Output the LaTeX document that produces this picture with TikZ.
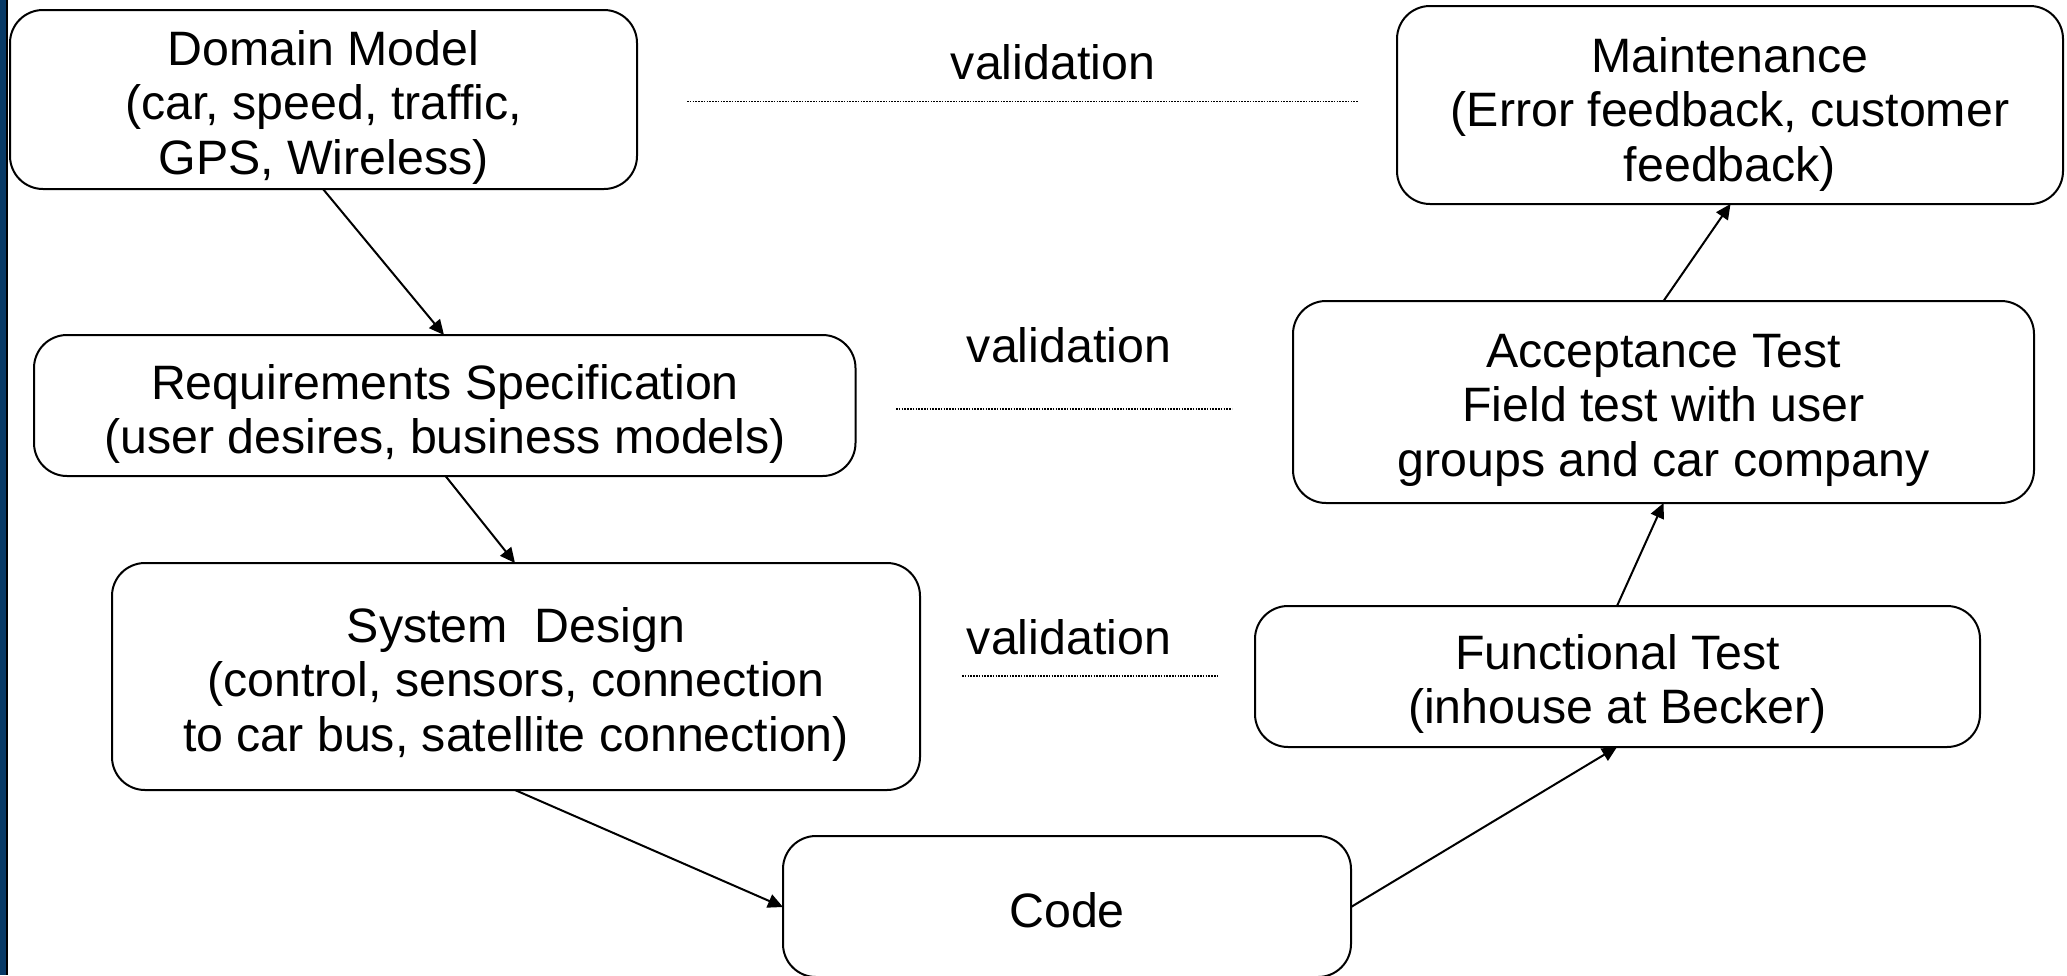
\documentclass[tikz,border=0pt]{standalone}
\usepackage{fontspec}
\setmainfont{Liberation Sans}
\usetikzlibrary{arrows.meta}
\definecolor{stripblue}{HTML}{083A66}
\begin{document}
\begin{tikzpicture}[x=1pt,y=-1pt,
  box/.style={draw=black,line width=2pt,rounded corners=33pt,fill=white},
  lbl/.style={font=\fontsize{48.3}{54.5}\selectfont,align=center,inner sep=0pt},
  arr/.style={draw=black,line width=2pt,-{Triangle[length=15pt,width=14pt]}},
  valline/.style={draw=black,line width=1.6pt,dash pattern=on 1.6pt off 1.2pt}]
\useasboundingbox (0,0) rectangle (2067,975);
\fill[white] (0,0) rectangle (2067,975);
\fill[stripblue] (0,0) rectangle (5.5,975);
\fill[black] (5.5,0) rectangle (7.5,975);
% boxes
\draw[box] (10,10) rectangle (637,189);
\node[lbl] (dm) at (323.5,107) {Domain Model\\(car, speed, traffic,\\GPS, Wireless)};
\coordinate (dmS) at (323,189);
\draw[box] (34,335) rectangle (855.5,476);
\node[lbl] (rs) at (445,414) {Requirements Specification\\(user desires, business models)};
\draw[box] (112,563) rectangle (920,790);
\node[lbl] (sd) at (516,684) {System~ Design\\(control, sensors, connection\\to car bus, satellite connection)};
\draw[box] (783,836) rectangle (1351,977);
\node[lbl] (cd) at (1067,910) {Code};
\draw[box] (1255,606) rectangle (1980,747);
\node[lbl] (ft) at (1617.5,684) {Functional Test\\(inhouse at Becker)};
\draw[box] (1293,301) rectangle (2034,503);
\node[lbl] (at) at (1663.5,410) {Acceptance Test\\Field test with user\\groups and car company};
\draw[box] (1397,6) rectangle (2063,204);
\node[lbl] (mt) at (1730,114) {Maintenance\\(Error feedback, customer\\feedback)};
% anchor coordinates on box borders
\coordinate (rsN) at (444,335);
\coordinate (rsS) at (445.5,476);
\coordinate (sdN) at (515,563);
\coordinate (sdS) at (515,790);
\coordinate (cdW) at (783,907);
\coordinate (cdE) at (1351,907);
\coordinate (ftS) at (1617,747);
\coordinate (ftN) at (1617,606);
\coordinate (atS) at (1663.5,503);
\coordinate (atN) at (1663.5,301);
\coordinate (mtS) at (1730.5,204);
% arrows
\draw[arr] (dmS) -- (rsN);
\draw[arr] (rsS) -- (sdN);
\draw[arr] (sdS) -- (cdW);
\draw[arr] (cdE) -- (ftS);
\draw[arr] (ftN) -- (atS);
\draw[arr] (atN) -- (mtS);
% validation
\node[lbl] (v1) at (1053,62) {validation};
\node[lbl] (v2) at (1069,345) {validation};
\node[lbl] (v3) at (1069,637) {validation};
\coordinate (v1a) at (687,101.5); \coordinate (v1b) at (1358,101.5);
\coordinate (v2a) at (896,409); \coordinate (v2b) at (1232,409);
\coordinate (v3a) at (962,676); \coordinate (v3b) at (1219,676);
\draw[valline] (v1a) -- (v1b);
\draw[valline] (v2a) -- (v2b);
\draw[valline] (v3a) -- (v3b);
\end{tikzpicture}
\end{document}
